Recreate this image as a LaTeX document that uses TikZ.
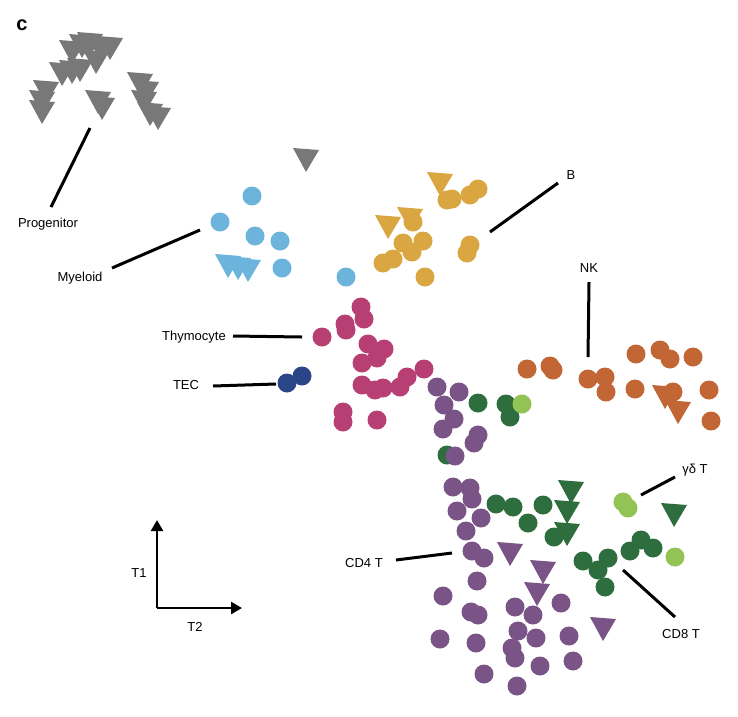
\documentclass[tikz,border=0pt]{standalone}
\usepackage{fontspec}
\setmainfont{Liberation Sans}
\usetikzlibrary{arrows.meta}
\begin{document}
\begin{tikzpicture}[x=1pt,y=-1pt,
  lab/.style={font=\fontsize{13}{15}\selectfont, inner sep=1pt},
  ln/.style={line width=3pt}]
\definecolor{cgray}{HTML}{787878}
\definecolor{cblue}{HTML}{6CB4DC}
\definecolor{cyel}{HTML}{D9A641}
\definecolor{cpink}{HTML}{B83F73}
\definecolor{cnavy}{HTML}{2B4686}
\definecolor{cpur}{HTML}{7A5387}
\definecolor{cdg}{HTML}{2E6E3E}
\definecolor{clg}{HTML}{93C255}
\definecolor{cor}{HTML}{C26636}
\useasboundingbox (0,0) rectangle (738,716);
\newcommand\mycirc[2]{\foreach \p in {#2}{\fill[#1] \p circle (9.5);}}
\newcommand\mytri[2]{\foreach \a/\b in {#2}{\fill[#1] (\a-13,\b-10) -- (\a+13,\b-8) -- (\a,\b+14) -- cycle;}}
% progenitor
\mytri{cgray}{72/50,82/44,90/42,100/46,110/46,96/60,62/72,72/70,80/68,46/90,42/100,42/110,98/100,102/106,140/82,146/90,144/100,150/112,158/116,306/158}
% myeloid
\mycirc{cblue}{(252,196),(220,222),(255,236),(280,241),(282,268),(346,277)}
\mytri{cblue}{228/264,238/266,248/268}
% B
\mytri{cyel}{440/182,410/217,388/225}
\mycirc{cyel}{(447,200),(452,199),(470,195),(478,189),(413,222),(403,243),(423,241),(412,252),(383,263),(393,259),(425,277),(470,245),(467,253)}
% thymocyte
\mycirc{cpink}{(361,307),(364,319),(345,324),(346,330),(322,337),(368,344),(384,349),(377,358),(362,363),(362,385),(375,390),(383,388),(400,387),(407,377),(424,369),(343,412),(343,422),(377,420)}
\mycirc{cnavy}{(287,383),(302,376)}
% upper mix
\mycirc{cdg}{(478,403),(506,404),(510,417),(447,455)}
\mycirc{clg}{(522,404)}
\mycirc{cpur}{(437,387),(459,392),(444,405),(454,419),(443,429),(478,435),(474,443),(455,456)}
% NK
\mycirc{cor}{(527,369),(550,366),(553,370),(588,379),(605,377),(606,392),(636,354),(660,350),(670,359),(693,357),(635,389),(673,392),(709,390),(711,421)}
\mytri{cor}{665/395,678/410}
% CD4
\mycirc{cpur}{(453,487),(470,488),(472,499),(457,511),(481,518),(466,531),(472,551),(484,558),(477,581),(443,596),(471,612),(478,615),(515,607),(533,615),(561,603),(518,631),(536,638),(569,636),(440,639),(476,643),(512,648),(515,658),(540,666),(573,661),(484,674),(517,686)}
\mytri{cpur}{510/552,543/570,537/592,603/627}
% CD8
\mycirc{cdg}{(496,504),(513,507),(543,505),(528,523),(554,537),(583,561),(608,558),(598,570),(605,587),(630,551),(641,540),(653,548)}
\mytri{cdg}{571/490,567/510,567/532,674/513}
\mycirc{clg}{(623,502),(628,508),(675,557)}
% labels
\node[font=\fontsize{20}{22}\selectfont\bfseries, inner sep=0] (c) at (22,25) {c};
\node[lab] (prog) at (48,224) {Progenitor};
\node[lab] (mye) at (80,278) {Myeloid};
\node[lab] (bl) at (571,175) {B};
\node[lab] (nk) at (589,268) {NK};
\node[lab] (thy) at (194,337) {Thymocyte};
\node[lab] (tec) at (186,385) {TEC};
\node[lab] (cd4) at (364,563) {CD4 T};
\node[lab] (gd) at (695,470) {γδ T};
\node[lab] (cd8) at (681,634) {CD8 T};
\node[lab] (t1) at (139,573) {T1};
\node[lab] (t2) at (195,627) {T2};
\coordinate (p1) at (90,128); \coordinate (p2) at (51,207);
\coordinate (m1) at (200,230); \coordinate (m2) at (112,268);
\coordinate (b1) at (490,232); \coordinate (b2) at (558,183);
\coordinate (n1) at (589,282); \coordinate (n2) at (588,357);
\coordinate (h1) at (233,336); \coordinate (h2) at (302,337);
\coordinate (e1) at (213,386); \coordinate (e2) at (276,384);
\coordinate (d1) at (396,560); \coordinate (d2) at (452,553);
\coordinate (g1) at (641,495); \coordinate (g2) at (675,477);
\coordinate (k1) at (623,570); \coordinate (k2) at (675,617);
\foreach \u/\v in {p1/p2,m1/m2,b1/b2,n1/n2,h1/h2,e1/e2,d1/d2,g1/g2,k1/k2}{\draw[ln] (\u) -- (\v);}
\coordinate (o) at (157,608); \coordinate (ax1) at (157,520); \coordinate (ax2) at (242,608);
\draw[line width=2.5pt, -{Triangle[length=11pt,width=12pt]}] (o) -- (ax1);
\draw[line width=2.5pt, -{Triangle[length=11pt,width=12pt]}] (o) -- (ax2);
\end{tikzpicture}
\end{document}
